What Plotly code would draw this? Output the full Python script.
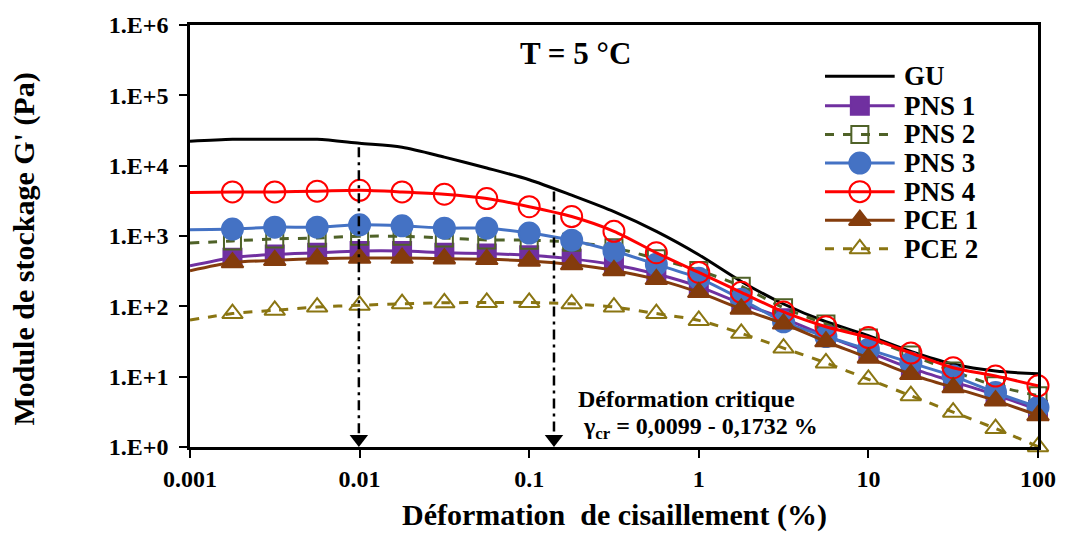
import plotly.graph_objects as go

# ---------------- data ----------------
strain = [0.001, 0.00178, 0.00316, 0.00562, 0.01, 0.0178, 0.0316, 0.0562, 0.1, 0.178,
          0.316, 0.562, 1, 1.78, 3.16, 5.62, 10, 17.8, 31.6, 56.2, 100]

GU = [22180, 23660, 23660, 23660, 20800, 18280, 13240, 9270, 6310, 3800,
      2220, 1164, 542, 226, 108, 60.3, 38.4, 22.9, 15.1, 12.0, 11.0]
PNS1 = [376, 492, 547, 578, 611, 611, 578, 562, 531, 473,
        389, 288, 191, 110, 67.6, 38.0, 22.4, 13.2, 8.51, 5.50, 3.39]
PNS2 = [794, 851, 908, 938, 991, 991, 938, 879, 871, 817,
        679, 476, 324, 193, 95.5, 56.2, 35.5, 20.4, 12.0, 7.41, 5.37]
PNS3 = [1225, 1253, 1337, 1337, 1442, 1396, 1294, 1294, 1102, 871,
        611, 396, 251, 126, 60.3, 37.2, 24.4, 15.7, 10.2, 5.96, 3.67]
PNS4 = [4170, 4240, 4240, 4330, 4470, 4240, 3930, 3410, 2610, 1890,
        1164, 578, 303, 158, 83.2, 51.3, 36.0, 21.7, 13.4, 10.2, 7.4]
PCE1 = [320, 419, 451, 476, 486, 486, 476, 466, 442, 393,
        324, 242, 158, 91.8, 56.5, 31.6, 18.5, 10.8, 7.0, 4.56, 2.81]
PCE2 = [63.7, 78.9, 87.9, 97.7, 103.5, 108.9, 112.2, 113.5, 113.5, 108.4,
        97.7, 78.9, 63.1, 41.3, 25.5, 15.7, 9.18, 5.36, 3.13, 1.83, 1.01]

x_tick_vals = [0.001, 0.01, 0.1, 1, 10, 100]
x_tick_text = ["0.001", "0.01", "0.1", "1", "10", "100"]
y_tick_vals = [1, 10, 100, 1000, 10000, 100000, 1000000]
y_tick_text = ["1.E+0", "1.E+1", "1.E+2", "1.E+3", "1.E+4", "1.E+5", "1.E+6"]

critical_strain = [0.0099, 0.14]      # positions of the dash-dot arrows
critical_top = [18300, 4300]          # where the dash-dot lines start
critical_bottom = 1.47                # where the dash-dot lines meet the arrow head
arrow_level = 1.295                   # centre of the arrow heads (tip on the axis)

FONT = "Liberation Serif, Times New Roman, serif"

series = [
    # name, values, color, dash, symbol, size
    ("GU", GU, "#000000", "solid", None, 0),
    ("PNS 1", PNS1, "#7030A0", "solid", "square", 18),
    ("PNS 2", PNS2, "#4F6228", "dash", "square-open", 17),
    ("PNS 3", PNS3, "#4472C4", "solid", "circle", 21),
    ("PNS 4", PNS4, "#FF0000", "solid", "circle-open", 21),
    ("PCE 1", PCE1, "#843C0C", "solid", "triangle-up", 19),
    ("PCE 2", PCE2, "#8A7512", "dash", "triangle-up-open", 18),
]

# plot-area geometry in pixels (for placing legend / texts)
PL, PR, PT, PB = 190, 1042, 19, 447
def px(xp):
    return (xp - PL) / (PR - PL)
def py(yp):
    return (PB - yp) / (PB - PT)

legend_rows = [71, 101, 130, 159, 188, 217, 246]
legend_x0, legend_x1, legend_text_x = 828, 898, 905

fig = go.Figure()
for name, vals, col, dash, sym, size in series:
    if sym is None:
        fig.add_trace(go.Scatter(
            x=strain, y=vals, name=name, mode="lines",
            line=dict(color=col, width=3, shape="spline", smoothing=0.8),
            cliponaxis=False, showlegend=False))
    else:
        sizes = [0] + [size] * (len(strain) - 1)
        fig.add_trace(go.Scatter(
            x=strain, y=vals, name=name, mode="lines+markers",
            line=dict(color=col, width=3, dash=dash, shape="spline", smoothing=0.8),
            marker=dict(symbol=sym, size=sizes, color=col, opacity=1,
                        line=dict(color=col, width=2)),
            cliponaxis=False, showlegend=False))

# dash-dot critical strain lines with arrow heads
for xc, yt in zip(critical_strain, critical_top):
    fig.add_trace(go.Scatter(
        x=[xc, xc], y=[yt, critical_bottom], mode="lines",
        line=dict(color="black", width=2.5, dash="10px,5px,3px,5px"),
        showlegend=False, hoverinfo="skip"))
fig.add_trace(go.Scatter(
    x=critical_strain, y=[arrow_level] * len(critical_strain), mode="markers",
    marker=dict(symbol="triangle-down", size=16, color="black", opacity=1,
                line=dict(width=0)),
    showlegend=False, hoverinfo="skip", cliponaxis=False))

# custom legend drawn on an invisible overlay axis (0..1 of the plot area)
for (name, vals, col, dash, sym, size), yr in zip(series, legend_rows):
    yy = py(yr)
    if sym is None:
        fig.add_trace(go.Scatter(
            x=[px(legend_x0), px(legend_x1)], y=[yy, yy], mode="lines",
            line=dict(color=col, width=3), xaxis="x2", yaxis="y2",
            showlegend=False, hoverinfo="skip", cliponaxis=False))
    else:
        fig.add_trace(go.Scatter(
            x=[px(legend_x0), px((legend_x0 + legend_x1) / 2), px(legend_x1)],
            y=[yy, yy, yy], mode="lines+markers",
            line=dict(color=col, width=3, dash=dash),
            marker=dict(symbol=sym, size=[0, size, 0], color=col, opacity=1,
                        line=dict(color=col, width=2)),
            xaxis="x2", yaxis="y2",
            showlegend=False, hoverinfo="skip", cliponaxis=False))
    fig.add_annotation(x=px(legend_text_x), y=yy, xref="x2", yref="y2",
                       xanchor="left", yanchor="middle", text=name, showarrow=False,
                       font=dict(family=FONT, size=27, color="black", weight="bold"))

fig.add_annotation(x=px(577), y=py(48), xref="paper", yref="paper",
                   xanchor="center", yanchor="middle",
                   text="T = 5 °C", showarrow=False,
                   font=dict(family=FONT, size=31, color="black", weight="bold"))
fig.add_annotation(x=px(578), y=py(398), xref="paper", yref="paper",
                   xanchor="left", yanchor="middle",
                   text="Déformation critique", showarrow=False,
                   font=dict(family=FONT, size=24, color="black", weight="bold"))
fig.add_annotation(x=px(583), y=py(428), xref="paper", yref="paper",
                   xanchor="left", yanchor="middle",
                   text="γ<sub>cr</sub> = 0,0099 - 0,1732 %", showarrow=False,
                   font=dict(family=FONT, size=24, color="black", weight="bold"))

# axis titles
fig.add_annotation(x=px(616), y=py(516), xref="paper", yref="paper",
                   xanchor="center", yanchor="middle",
                   text="Déformation  de cisaillement (%)", showarrow=False,
                   font=dict(family=FONT, size=30, color="black", weight="bold"))
fig.add_annotation(x=px(23), y=py(246), xref="paper", yref="paper",
                   xanchor="center", yanchor="middle", textangle=-90,
                   text="Module de stockage G' (Pa)", showarrow=False,
                   font=dict(family=FONT, size=30, color="black", weight="bold"))

fig.update_layout(
    width=1068, height=548,
    margin=dict(l=PL, r=1068 - PR, t=PT, b=548 - PB),
    paper_bgcolor="white", plot_bgcolor="white",
    font=dict(family=FONT, color="black", weight="bold"),
    showlegend=False,
    xaxis=dict(type="log", range=[-3, 2],
               tickvals=x_tick_vals, ticktext=x_tick_text,
               showgrid=False, zeroline=False,
               showline=True, linecolor="black", linewidth=2.5, mirror=True,
               ticks="outside", ticklen=8, tickwidth=2, tickcolor="black",
               tickfont=dict(family=FONT, size=24, color="black", weight="bold")),
    yaxis=dict(type="log", range=[0, 6],
               tickvals=y_tick_vals, ticktext=y_tick_text,
               showgrid=False, zeroline=False,
               showline=True, linecolor="black", linewidth=2.5, mirror=True,
               ticks="outside", ticklen=8, tickwidth=2, tickcolor="black",
               ticklabelstandoff=6,
               tickfont=dict(family=FONT, size=24, color="black", weight="bold")),
    xaxis2=dict(overlaying="x", range=[0, 1], visible=False, anchor="y2"),
    yaxis2=dict(overlaying="y", range=[0, 1], visible=False, anchor="x2"),
)

fig.write_html("out.html")
